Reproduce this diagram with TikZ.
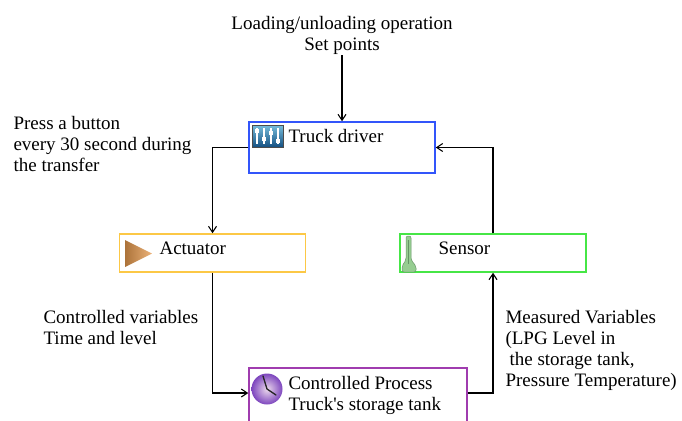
\documentclass[tikz,border=0pt]{standalone}
\usepackage{fontspec}
\setmainfont{Liberation Serif}
\usetikzlibrary{positioning, arrows.meta}
\definecolor{drvblue}{RGB}{50,85,250}
\definecolor{actorange}{RGB}{252,200,70}
\definecolor{sensgreen}{RGB}{70,230,70}
\definecolor{procpurple}{RGB}{160,60,175}
\definecolor{mixtop}{RGB}{120,190,220}
\definecolor{mixbot}{RGB}{20,80,130}
\definecolor{thermo}{RGB}{150,205,145}
\definecolor{clockout}{RGB}{125,70,190}
\begin{document}
\begin{tikzpicture}[x=1pt, y=-1pt, line width=1.1pt, >={Straight Barb[length=6pt,width=8pt]},
    every node/.style={font=\fontsize{19}{21}\selectfont},
    box/.style={draw, line width=1.5pt, minimum width=186pt, minimum height=38pt, inner sep=0pt},
    lbl/.style={inner sep=0pt, align=left, anchor=north west}]

        \useasboundingbox (0,0) rectangle (682,420);

        % Boxes of the loop
        \node (driver) [box, draw=drvblue, minimum height=51pt] at (342,147.5) {};
        \node (actuator) [box, draw=actorange] at (212.5,253) {};
        \node (sensor) [box, draw=sensgreen, right=93pt of actuator] {};
        \node (process) [box, draw=procpurple, minimum width=218pt, minimum height=60pt] at (358,398) {};

        % Icons
        \shade[top color=mixtop, bottom color=mixbot, draw=black!70, line width=0.6pt] (252,125) rectangle (283,147);
        \foreach \sx/\sy in {257/131, 264/139, 271/133, 278/141} {
            \draw[white, line width=1.2pt] (\sx,128) -- (\sx,144);
            \fill[white] (\sx-2.2,\sy-1.6) rectangle (\sx+2.2,\sy+1.6);
        }
        \shade[left color=brown!90!black, right color=orange!50!brown!60] (125,240) -- (152,253.5) -- (125,267) -- cycle;
        \filldraw[fill=thermo, draw=green!30!black!60, line width=0.5pt, rounded corners=2pt]
            (406,260) -- (406,236) -- (411,236) -- (411,260) -- (416,266) -- (416,272) -- (402,272) -- (402,266) -- cycle;
        \draw[green!30!black!60, line width=0.6pt] (408.5,240) -- (408.5,264);
        \shade[inner color=violet!15!white, outer color=clockout] (267,389) circle (15.5);
        \draw[black!85, line width=1.3pt, line cap=round] (263,376) -- (267,389) -- (276,395);

        % Texts in the boxes
        \node (drvtxt) [lbl, anchor=base west] at (288,142) {Truck driver};
        \node (acttxt) [lbl, anchor=base west] at (159,254) {Actuator};
        \node (senstxt) [lbl, anchor=base west] at (438,254) {Sensor};
        \node (proctxt) [lbl] at (288,376) {Controlled Process\\Truck\textquotesingle s storage tank};

        % Texts on the loop
        \node (setpt) [lbl, align=center, anchor=north] at (342,16) {Loading/unloading operation\\Set points};
        \node (press) [lbl] at (13,116) {Press a button\\every 30 second during\\the transfer};
        \node (ctrlvar) [lbl] at (43,310) {Controlled variables\\Time and level};
        \node (measvar) [lbl] at (505,310) {Measured Variables\\(LPG Level in\\\hspace*{4pt}the storage tank,\\Pressure Temperature)};

        % Arrows of the loop
        \draw[->] (setpt) -- (driver);
        \draw[->] (driver.west) -| (actuator.north);
        \draw[->] (actuator.south) |- ([yshift=5pt]process.west);
        \draw[->] ([yshift=5pt]process.east) -| (sensor.south);
        \draw[->] (sensor.north) |- (driver.east);

\end{tikzpicture}
\end{document}
